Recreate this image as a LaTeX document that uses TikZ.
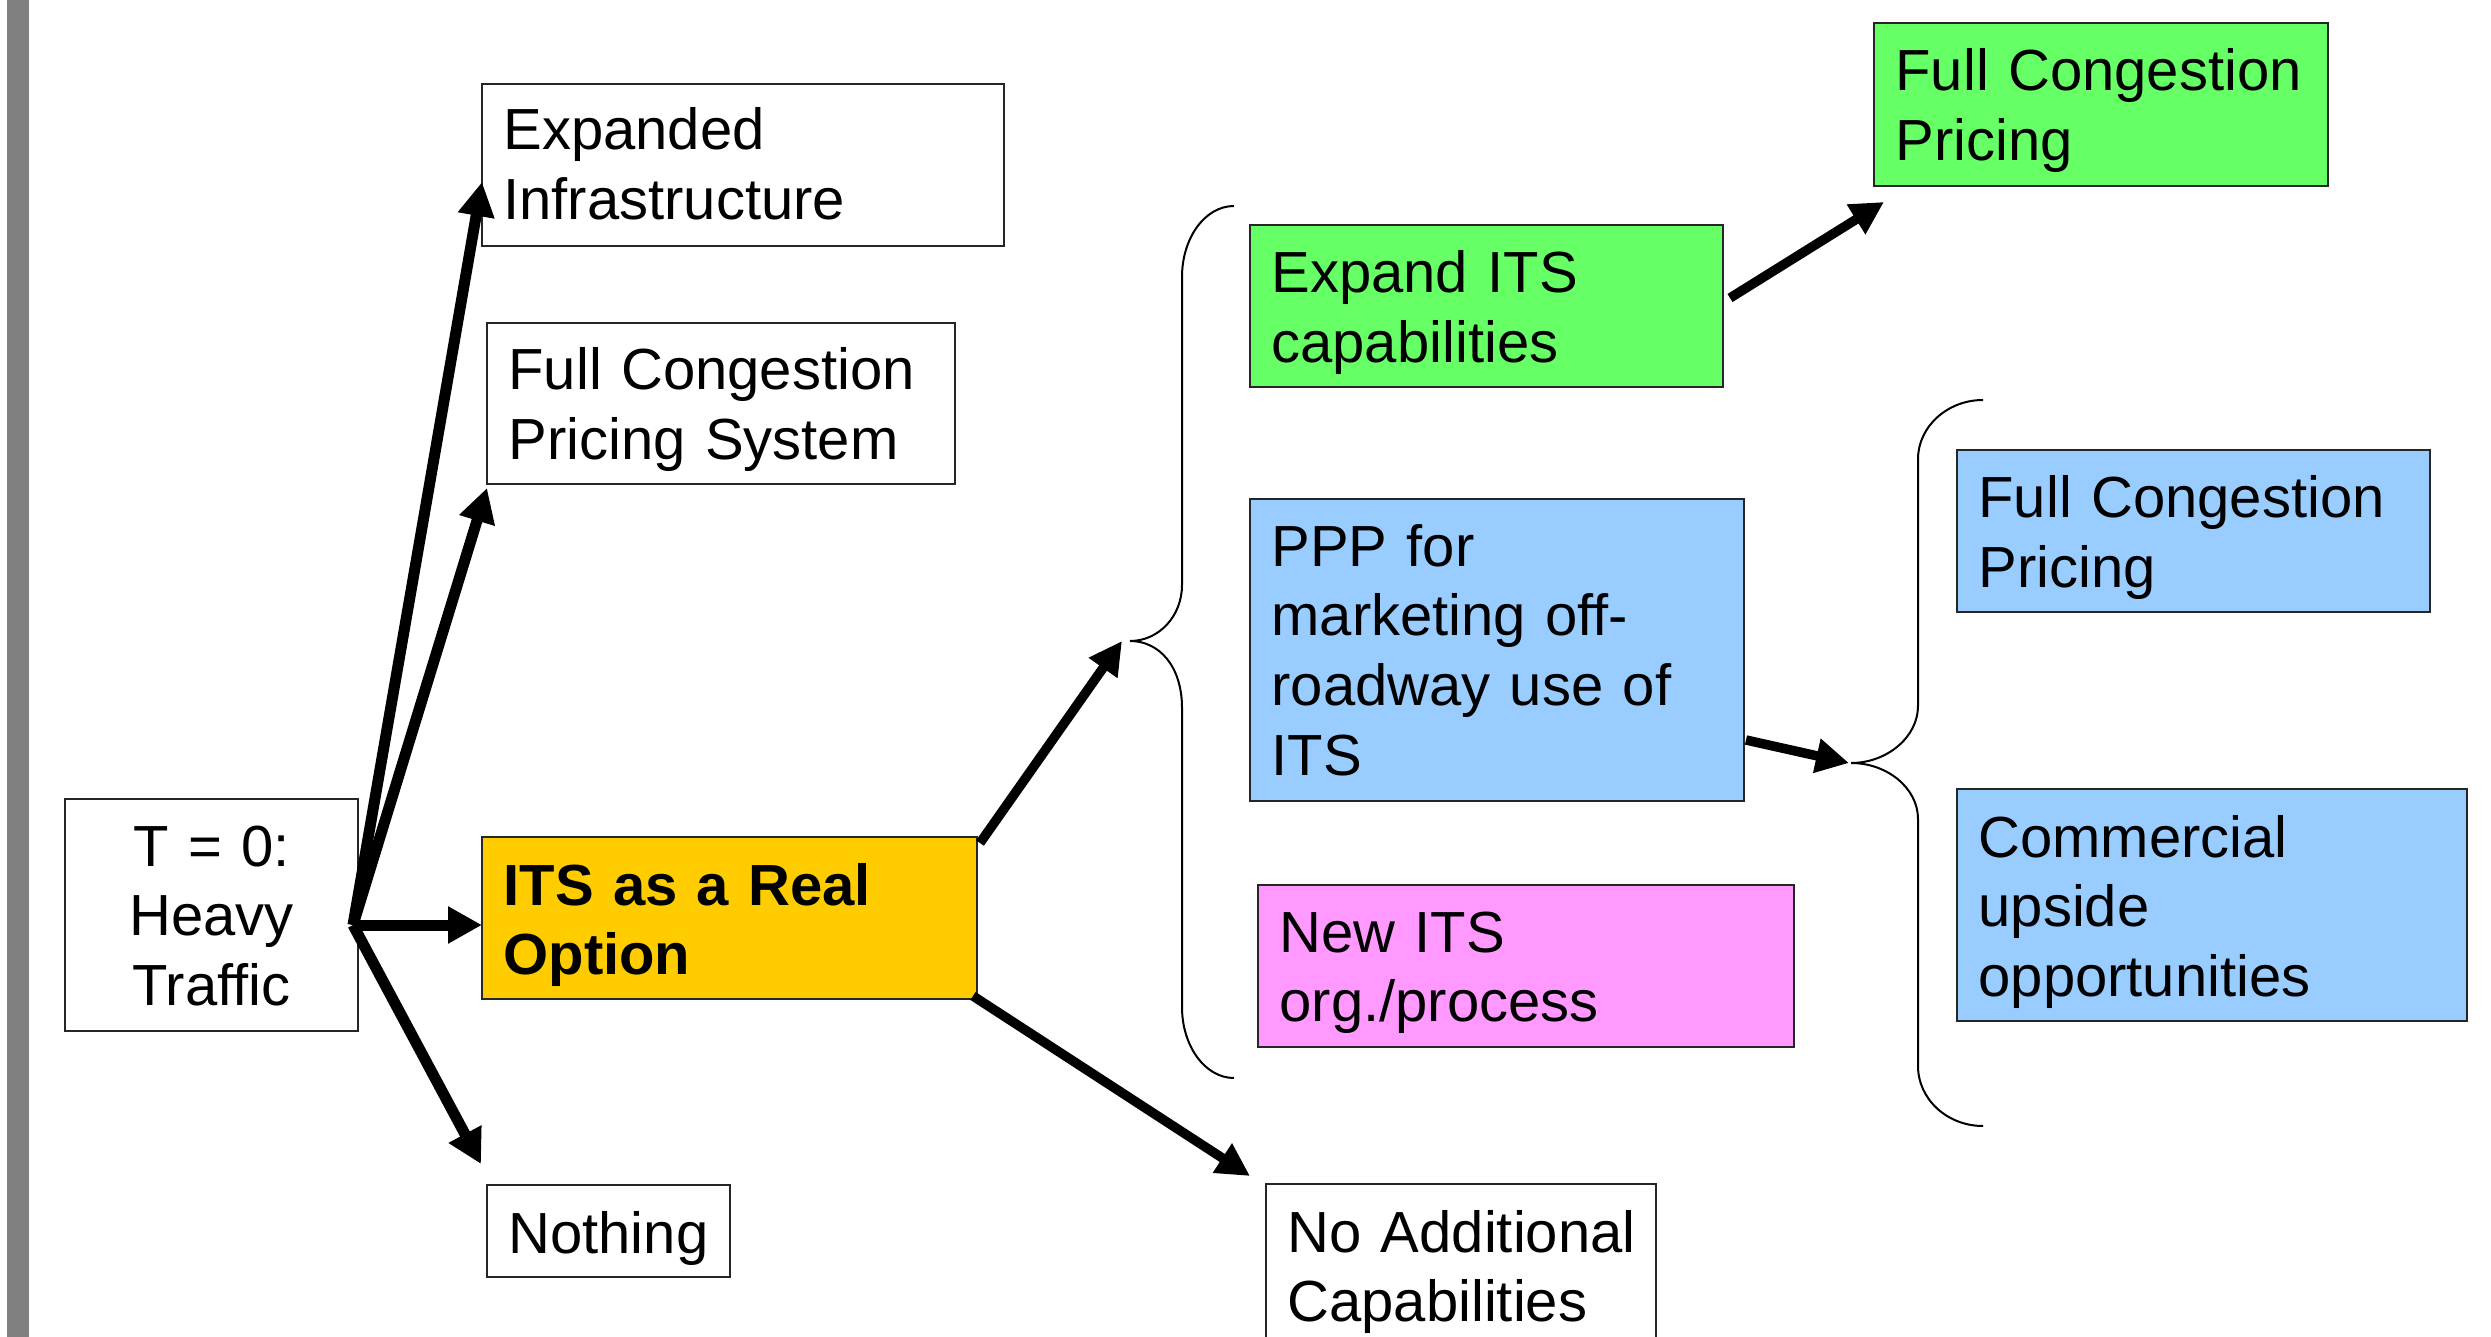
\documentclass[tikz,border=0pt]{standalone}
\usepackage{fontspec}
\setmainfont{Liberation Sans}
\usetikzlibrary{arrows.meta,calc}
\definecolor{itsyellow}{HTML}{FFCC00}
\definecolor{optgreen}{HTML}{66FF66}
\definecolor{optblue}{HTML}{99CCFF}
\definecolor{optpink}{HTML}{FF99FF}
\definecolor{bargray}{HTML}{808080}
\newcommand\diagfont{\fontsize{16.5}{19.9}\selectfont}
\tikzset{
  box/.style={draw=black!85, line width=0.02cm, anchor=north west, inner sep=0pt,
              outer sep=0pt, font=\diagfont},
  padded/.style={box, align=left, execute at begin node={\leftskip=0.215cm\relax}},
  centred/.style={box, align=center},
  fanarr/.style={line width=0.11cm, -{Triangle[length=0.34cm,width=0.35cm]}},
  arr/.style={line width=0.095cm, -{Triangle[length=0.33cm,width=0.33cm]}},
  bracepath/.style={line width=0.02cm, black}
}
\begin{document}
\begin{tikzpicture}
\clip (0,0) rectangle (24.91,-13.37);
\fill[white] (0,0) rectangle (24.91,-13.37);
% left gray bar
\fill[bargray] (0.07,0) rectangle (0.29,-13.37);

% boxes
\node[centred, text width=2.93cm, text height=0.67cm, text depth=1.65cm] (t0) at (0.65,-7.99) {T = 0:\\Heavy\\Traffic};
\node[padded, text width=5.22cm, text height=0.66cm, text depth=0.96cm] (exp) at (4.82,-0.84) {Expanded\\Infrastructure};
\node[padded, text width=4.68cm, text height=0.67cm, text depth=0.94cm] (fcps) at (4.87,-3.23) {Full Congestion\\Pricing System};
\node[padded, fill=itsyellow, font=\diagfont\bfseries, text width=4.95cm, text height=0.68cm, text depth=0.94cm] (its) at (4.82,-8.37) {ITS as a Real\\Option};
\node[padded, text width=2.43cm, text height=0.68cm, text depth=0.24cm] (noth) at (4.87,-11.85) {Nothing};
\node[padded, fill=optgreen, text width=4.73cm, text height=0.68cm, text depth=0.94cm] (eits) at (12.50,-2.25) {Expand ITS\\capabilities};
\node[padded, fill=optblue, text width=4.94cm, text height=0.67cm, text depth=2.35cm] (ppp) at (12.50,-4.99) {PPP for\\marketing off-\\roadway use of\\ITS};
\node[padded, fill=optpink, text width=5.36cm, text height=0.67cm, text depth=0.95cm] (newits) at (12.58,-8.85) {New ITS\\org./process};
\node[padded, text width=3.90cm, text height=0.68cm, text depth=1.50cm] (noadd) at (12.66,-11.84) {No Additional\\Capabilities};
\node[padded, fill=optgreen, text width=4.54cm, text height=0.68cm, text depth=0.95cm] (gfcp) at (18.74,-0.23) {Full Congestion\\Pricing};
\node[padded, fill=optblue, text width=4.73cm, text height=0.68cm, text depth=0.94cm] (bfcp) at (19.57,-4.50) {Full Congestion\\Pricing};
\node[padded, fill=optblue, text width=5.10cm, text height=0.68cm, text depth=1.64cm] (comm) at (19.57,-7.89) {Commercial\\upside\\opportunities};

% braces
\coordinate (b1tip) at (11.30,-6.41);
\coordinate (b2tip) at (18.51,-7.63);
\draw[bracepath] (12.34,-2.06) .. controls (12.05,-2.06) and (11.82,-2.38) .. (11.82,-2.77)
  -- (11.82,-5.85) .. controls (11.82,-6.16) and (11.59,-6.41) .. (b1tip)
  .. controls (11.59,-6.41) and (11.82,-6.66) .. (11.82,-7.08)
  -- (11.82,-10.07) .. controls (11.82,-10.46) and (12.05,-10.78) .. (12.34,-10.78);
\draw[bracepath] (19.83,-4.00) .. controls (19.47,-4.00) and (19.18,-4.27) .. (19.18,-4.59)
  -- (19.18,-7.06) .. controls (19.18,-7.37) and (18.87,-7.63) .. (b2tip)
  .. controls (18.87,-7.63) and (19.18,-7.88) .. (19.18,-8.19)
  -- (19.18,-10.66) .. controls (19.18,-10.99) and (19.47,-11.26) .. (19.83,-11.26);

% fan of arrows from T = 0
\coordinate (fan) at ([shift={(-0.05,-0.10)}]t0.east);
\draw[fanarr] (fan) -- ([yshift=-0.17cm]exp.west);
\draw[fanarr] (fan) -- ([yshift=-0.04cm]fcps.south west);
\draw[fanarr] (fan) -- (fan -| its.west);
\draw[fanarr] (fan) -- ([shift={(-0.06,0.21)}]noth.north west);

% other arrows
\draw[arr] ([shift={(0.03,-0.06)}]its.north east) -- ([xshift=-0.08cm]b1tip);
\draw[arr] ([shift={(-0.04,0.03)}]its.south east) -- ([shift={(-0.16,0.08)}]noadd.north west);
\draw[arr] ([shift={(0.07,0.08)}]eits.east) -- ([shift={(0.10,-0.16)}]gfcp.south west);
\draw[arr] ([shift={(0.02,-0.90)}]ppp.east) -- ([xshift=-0.02cm]b2tip);
\end{tikzpicture}
\end{document}
